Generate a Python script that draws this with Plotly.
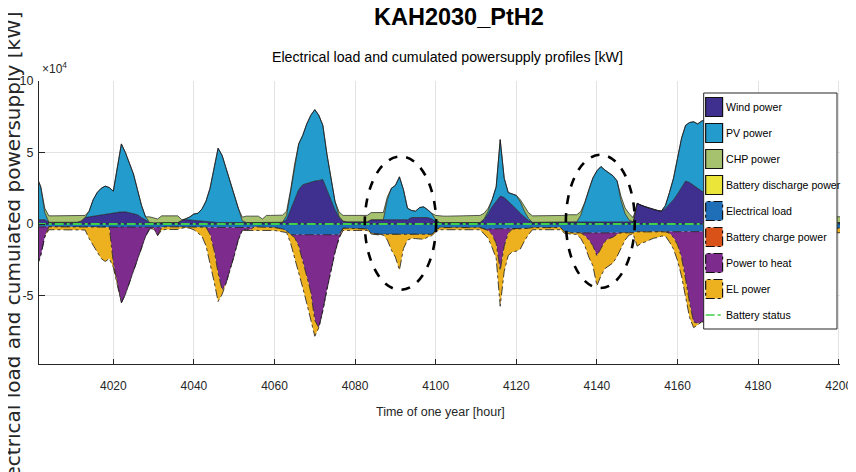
import plotly.graph_objects as go

# ---------------- data (values in units of 10^4 kW) ----------------
hours = list(range(4001, 4202))

wind = [
    0.3, 0.3, 0.3, 0.12, 0.12, 0.12, 0.12, 0.12, 0.12, 0.12,
    0.12, 0.2, 0.45, 0.5, 0.55, 0.6, 0.62, 0.65, 0.7, 0.75,
    0.8, 0.85, 0.85, 0.8, 0.75, 0.65, 0.45, 0.25, 0.1, 0.08,
    0.1, 0.1, 0.1, 0.1, 0.1, 0.1, 0.25, 0.3, 0.28, 0.25,
    0.22, 0.2, 0.18, 0.15, 0.12, 0.1, 0.1, 0.1, 0.1, 0.1,
    0.08, 0.08, 0.1, 0.1, 0.1, 0.1, 0.1, 0.1, 0.1, 0.1,
    0.1, 0.12, 0.3, 1.0, 1.8, 2.4, 2.75, 2.85, 2.9, 3.0,
    3.05, 3.1, 2.4, 1.7, 1.0, 0.45, 0.2, 0.15, 0.15, 0.15,
    0.15, 0.15, 0.15, 0.3, 0.3, 0.3, 0.3, 0.3, 0.3, 0.3,
    0.3, 0.3, 0.3, 0.45, 0.45, 0.45, 0.45, 0.45, 0.35, 0.15,
    0.1, 0.1, 0.1, 0.1, 0.1, 0.1, 0.1, 0.1, 0.1, 0.1,
    0.1, 0.3, 0.7, 1.2, 1.6, 1.95, 1.85, 1.6, 1.3, 1.05,
    0.75, 0.5, 0.25, 0.12, 0.12, 0.12, 0.12, 0.12, 0.12, 0.12,
    0.12, 0.15, 0.15, 0.15, 0.15, 0.12, 0.12, 0.12, 0.12, 0.12,
    0.12, 0.12, 0.12, 0.12, 0.12, 0.12, 0.12, 0.12, 0.15, 1.45,
    1.3, 1.2, 1.1, 1.0, 0.95, 0.9, 1.1, 1.4, 1.7, 2.1,
    2.6, 3.0, 2.9, 2.7, 2.5, 2.3, 2.2, 2.0, 1.8, 1.5,
    1.2, 0.9, 0.6, 0.4, 0.3, 0.2, 0.2, 0.2, 0.2, 0.2,
    0.2, 0.2, 0.2, 0.2, 0.2, 0.15, 0.15, 0.15, 0.15, 0.15,
    0.15, 0.15, 0.15, 0.15, 0.15, 0.12, 0.12, 0.1, 0.1, 0.1,
    0.1,
]

pv = [
    3.0, 2.3, 0.5, 0, 0, 0, 0, 0, 0, 0,
    0, 0, 0, 0.4, 1.15, 1.6, 1.88, 2.0, 1.85, 1.55,
    3.2, 4.75, 4.15, 3.5, 2.75, 1.75, 0.85, 0.25, 0, 0,
    0, 0, 0, 0, 0, 0, 0, 0.05, 0.22, 0.45,
    0.53, 0.85, 1.42, 2.35, 3.78, 5.2, 4.7, 3.8, 2.9, 2.0,
    1.02, 0.15, 0, 0, 0, 0, 0, 0, 0, 0,
    0, 0, 0.3, 1.3, 2.4, 3.2, 3.45, 4.15, 4.7, 5.0,
    4.55, 3.8, 2.5, 1.4, 0.6, 0.1, 0, 0, 0, 0,
    0, 0, 0, 0, 0, 0, 0, 1.4, 2.2, 2.4,
    3.0, 2.1, 0.8, 0.5, 0.45, 0.7, 0.75, 0.55, 0.4, 0.15,
    0, 0, 0, 0, 0, 0, 0, 0, 0, 0,
    0, 0.05, 0.2, 0.5, 1.0, 3.95, 1.35, 0.6, 0.8, 0.95,
    0.8, 0.4, 0.15, 0, 0, 0, 0, 0, 0, 0,
    0, 0, 0, 0, 0, 0.5, 1.4, 2.3, 3.1, 3.6,
    3.9, 3.65, 3.45, 3.25, 2.9, 1.5, 0.6, 0.15, 0, 0,
    0, 0, 0, 0, 0, 0, 0.2, 0.8, 1.5, 2.5,
    3.4, 3.9, 4.2, 4.45, 4.5, 4.9, 5.1, 4.8, 4.0, 3.0,
    2.0, 1.0, 0.3, 0, 0, 0, 0, 0, 0, 0,
    0, 0, 0, 0, 0, 0, 0, 0, 0, 0,
    0, 0, 0, 0, 0, 0, 0, 0, 0, 0,
    0,
]

chp = [
    0, 0, 0.3, 0.45, 0.45, 0.45, 0.45, 0.45, 0.45, 0.45,
    0.45, 0.4, 0.15, 0, 0, 0, 0, 0, 0, 0,
    0, 0, 0, 0, 0, 0, 0, 0, 0.4, 0.35,
    0.25, 0.47, 0.47, 0.47, 0.47, 0.47, 0.05, 0, 0, 0,
    0, 0, 0, 0, 0, 0, 0, 0, 0, 0,
    0, 0.25, 0.45, 0.45, 0.45, 0.45, 0.25, 0.5, 0.5, 0.5,
    0.5, 0.5, 0.3, 0.1, 0, 0, 0, 0, 0, 0,
    0, 0, 0, 0, 0, 0.3, 0.4, 0.45, 0.45, 0.45,
    0.45, 0.45, 0.45, 0.5, 0.5, 0.5, 0.5, 0.2, 0, 0,
    0, 0, 0, 0, 0, 0, 0, 0, 0, 0.3,
    0.45, 0.45, 0.45, 0.45, 0.45, 0.45, 0.45, 0.45, 0.45, 0.45,
    0.5, 0.4, 0.2, 0, 0, 0, 0, 0, 0, 0,
    0.15, 0.3, 0.4, 0.45, 0.45, 0.45, 0.45, 0.45, 0.45, 0.45,
    0.45, 0.45, 0.5, 0.5, 0.5, 0.25, 0, 0, 0, 0,
    0, 0, 0, 0, 0, 0.3, 0.4, 0.45, 0.3, 0,
    0, 0, 0, 0, 0, 0, 0, 0, 0, 0,
    0, 0, 0, 0, 0, 0, 0, 0, 0, 0,
    0, 0, 0.2, 0.4, 0.4, 0.4, 0.4, 0.4, 0.4, 0.4,
    0.4, 0.4, 0.4, 0.4, 0.4, 0.4, 0.4, 0.4, 0.4, 0.4,
    0.4, 0.4, 0.4, 0.4, 0.4, 0.4, 0.4, 0.4, 0.4, 0.4,
    0.4,
]

# demand side (magnitudes, drawn below zero)
load = [
    0.2, 0.2, 0.2, 0.2, 0.2, 0.2, 0.2, 0.2, 0.2, 0.2,
    0.2, 0.2, 0.22, 0.22, 0.22, 0.22, 0.22, 0.22, 0.22, 0.22,
    0.22, 0.22, 0.22, 0.22, 0.22, 0.22, 0.22, 0.22, 0.2, 0.2,
    0.2, 0.2, 0.2, 0.2, 0.2, 0.2, 0.2, 0.2, 0.2, 0.2,
    0.22, 0.22, 0.22, 0.22, 0.22, 0.22, 0.22, 0.22, 0.22, 0.22,
    0.22, 0.2, 0.2, 0.2, 0.2, 0.2, 0.2, 0.2, 0.2, 0.25,
    0.3, 0.35, 0.5, 0.75, 0.75, 0.75, 0.75, 0.75, 0.75, 0.75,
    0.75, 0.75, 0.75, 0.75, 0.75, 0.75, 0.3, 0.3, 0.3, 0.3,
    0.3, 0.3, 0.35, 0.65, 0.7, 0.72, 0.72, 0.72, 0.72, 0.72,
    0.72, 0.72, 0.72, 0.72, 0.72, 0.72, 0.72, 0.72, 0.72, 0.45,
    0.25, 0.25, 0.25, 0.25, 0.25, 0.25, 0.25, 0.25, 0.25, 0.25,
    0.25, 0.35, 0.35, 0.35, 0.35, 0.35, 0.35, 0.35, 0.35, 0.35,
    0.35, 0.35, 0.3, 0.25, 0.25, 0.25, 0.25, 0.25, 0.25, 0.25,
    0.25, 0.55, 0.6, 0.62, 0.62, 0.62, 0.62, 0.62, 0.62, 0.62,
    0.62, 0.62, 0.62, 0.62, 0.62, 0.62, 0.62, 0.62, 0.62, 0.55,
    0.55, 0.55, 0.55, 0.55, 0.55, 0.55, 0.55, 0.55, 0.55, 0.55,
    0.55, 0.55, 0.55, 0.55, 0.55, 0.55, 0.55, 0.55, 0.55, 0.55,
    0.5, 0.5, 0.5, 0.5, 0.5, 0.5, 0.5, 0.5, 0.5, 0.5,
    0.5, 0.5, 0.5, 0.5, 0.5, 0.5, 0.5, 0.5, 0.5, 0.5,
    0.5, 0.5, 0.5, 0.5, 0.45, 0.4, 0.35, 0.3, 0.3, 0.3,
    0.3,
]

power_to_heat = [
    2.8, 2.0, 0.7, 0, 0, 0, 0, 0, 0, 0,
    0, 0, 0, 0, 0, 0, 0, 0, 0, 2.5,
    4.0, 5.3, 4.7, 3.9, 3.0, 2.2, 1.5, 0.65, 0.15, 0.1,
    0.6, 0.05, 0, 0, 0, 0, 0, 0, 0, 0,
    0, 0, 0, 0.5, 1.6, 3.2, 4.4, 3.9, 3.0, 2.0,
    0.9, 0.25, 0.2, 0.2, 0, 0, 0, 0, 0, 0,
    0, 0, 0, 0, 0.2, 0.8, 1.8, 2.9, 4.0, 6.0,
    6.5, 5.3, 3.85, 2.45, 1.25, 0.25, 0, 0, 0, 0,
    0, 0, 0, 0, 0, 0, 0, 0, 0, 0,
    0, 0, 0, 0, 0, 0, 0, 0, 0, 0,
    0, 0, 0, 0, 0, 0, 0, 0, 0, 0,
    0, 0, 0.1, 0.4, 1.0, 2.9, 1.2, 0.3, 0, 0,
    0, 0, 0, 0, 0, 0, 0, 0, 0, 0,
    0, 0, 0, 0, 0, 0, 0.2, 0.5, 0.9, 1.6,
    1.1, 0.6, 0.4, 0.3, 0.1, 0, 0, 0, 0, 0,
    0, 0, 0, 0, 0, 0, 0, 0.1, 0.4, 0.9,
    1.8, 3.3, 5.0, 6.3, 6.4, 6.3, 6.3, 5.8, 5.0, 3.8,
    2.5, 1.3, 0.5, 0, 0, 0, 0, 0, 0, 0,
    0, 0, 0, 0, 0, 0, 0, 0, 0, 0,
    0, 0, 0, 0, 0, 0, 0, 0, 0, 0,
    0,
]

el_power = [
    0, 0, 0, 0.2, 0.2, 0.2, 0.2, 0.2, 0.2, 0.2,
    0.2, 0.2, 0.2, 0.8, 1.3, 1.8, 2.2, 2.4, 2.2, 0.3,
    0, 0, 0, 0, 0, 0, 0, 0, 0, 0.05,
    0, 0.18, 0.18, 0.18, 0.18, 0.18, 0.1, 0.05, 0.1, 0.2,
    0.4, 0.65, 1.3, 2.0, 2.2, 2.0, 0.3, 0, 0, 0,
    0, 0, 0.05, 0.05, 0.2, 0.2, 0.2, 0.2, 0.2, 0.2,
    0.2, 0.2, 0.1, 0.6, 1.4, 1.8, 1.9, 1.9, 1.9, 1.1,
    0, 0, 0, 0, 0, 0, 0.15, 0.15, 0.15, 0.15,
    0.15, 0.15, 0.1, 0.05, 0.05, 0.05, 0.05, 0.4, 1.1, 1.6,
    2.5, 1.0, 0.4, 0.3, 0.3, 0.35, 0.35, 0.2, 0.1, 0.1,
    0.15, 0.15, 0.15, 0.15, 0.15, 0.15, 0.15, 0.15, 0.15, 0.15,
    0.15, 0.35, 0.55, 0.9, 1.05, 2.5, 1.75, 1.55, 1.6, 1.55,
    1.4, 0.85, 0.45, 0.15, 0.15, 0.15, 0.15, 0.15, 0.15, 0.15,
    0.15, 0.1, 0.1, 0.1, 0.1, 0.4, 0.7, 1.2, 1.4, 2.1,
    1.9, 1.9, 1.9, 1.8, 1.55, 1.05, 0.5, 0.15, 0.1, 1.0,
    0.8, 0.7, 0.55, 0.45, 0.4, 0.3, 0.3, 0.6, 0.8, 1.1,
    1.3, 1.3, 1.0, 0.4, 0.1, 0, 0, 0, 0, 0,
    0, 0, 0, 0.25, 0.25, 0.25, 0.25, 0.25, 0.25, 0.25,
    0.25, 0.25, 0.25, 0.25, 0.25, 0.25, 0.25, 0.25, 0.25, 0.25,
    0.25, 0.25, 0.25, 0.25, 0.25, 0.25, 0.3, 0.3, 0.3, 0.3,
    0.3,
]

# battery (no activity in this period)
battery_hours = [4001, 4201]
battery_discharge = [0, 0]
battery_charge = [0, 0]
battery_status = [0, 0]

x_ticks = [4020, 4040, 4060, 4080, 4100, 4120, 4140, 4160, 4180, 4200]
y_ticks = [-5, 0, 5, 10]
y_tick_labels = ["-5", "0", "5", "10"]

# highlighted periods (dashed ellipses): hour range, value range
highlights = [
    (4082.4, 4100.1, -4.6, 4.72),
    (4132.3, 4149.4, -4.48, 4.84),
]

# ---------------- styling ----------------
C_WIND = "#3f2f8f"
C_PV = "#249bcd"
C_CHP = "#a6c26f"
C_DIS = "#ebe53a"
C_LOAD = "#1f6fb8"
C_CHG = "#d95319"
C_PTH = "#7e2b8e"
C_EL = "#edb120"
C_BAT = "#3fcf4a"

SANS = "Liberation Sans, Arial, sans-serif"
EDGE = "#1a1a1a"
TXT = "#262626"

fig = go.Figure()

pos_series = [("Wind power", wind, C_WIND), ("PV power", pv, C_PV), ("CHP power", chp, C_CHP)]
for name, vals, col in pos_series:
    fig.add_trace(go.Scatter(
        x=hours, y=vals, name=name, mode="lines", stackgroup="pos",
        line=dict(color=EDGE, width=0.7), fillcolor=col, showlegend=False,
    ))

neg_series = [("Electrical load", load, C_LOAD), ("Power to heat", power_to_heat, C_PTH),
              ("EL power", el_power, C_EL)]
for name, vals, col in neg_series:
    fig.add_trace(go.Scatter(
        x=hours, y=[-v for v in vals], name=name, mode="lines", stackgroup="neg",
        line=dict(color=EDGE, width=0.8, dash="dashdot"), fillcolor=col, showlegend=False,
    ))

fig.add_trace(go.Scatter(x=battery_hours, y=battery_discharge, mode="lines",
                         name="Battery discharge power", fill="tozeroy", fillcolor=C_DIS,
                         line=dict(color=EDGE, width=0.8), showlegend=False))
fig.add_trace(go.Scatter(x=battery_hours, y=[-v for v in battery_charge], mode="lines",
                         name="Battery charge power", fill="tozeroy", fillcolor=C_CHG,
                         line=dict(color=EDGE, width=1.0, dash="dashdot"), showlegend=False))
fig.add_trace(go.Scatter(x=battery_hours, y=battery_status, mode="lines", name="Battery status",
                         line=dict(color=C_BAT, width=1.8, dash="dashdot"), showlegend=False))

# ---------------- geometry ----------------
# The page body adds an 8 px offset, so the figure is laid out 8 px up/left
OFF = 8
W, H = 856, 472
L, R, T, B = 36 - OFF, 841 - OFF, 81 - OFF, 364 - OFF
PW, PH = R - L, B - T


def px(xs):
    """screen x pixel -> paper coordinate"""
    return (xs - OFF - L) / PW


def py(ys):
    """screen y pixel -> paper coordinate"""
    return (B - (ys - OFF)) / PH


shapes = []
for x0, x1, y0, y1 in highlights:
    shapes.append(dict(type="circle", xref="x", yref="y", x0=x0, x1=x1, y0=y0, y1=y1,
                       line=dict(color="black", width=2.6, dash="dash"), layer="above"))

# custom legend (MATLAB-style square patches)
legend_items = [
    ("Wind power", C_WIND, "solid"), ("PV power", C_PV, "solid"),
    ("CHP power", C_CHP, "solid"), ("Battery discharge power", C_DIS, "solid"),
    ("Electrical load", C_LOAD, "dashdot"), ("Battery charge power", C_CHG, "dashdot"),
    ("Power to heat", C_PTH, "dashdot"), ("EL power", C_EL, "dashdot"),
]
LX0, LX1, LY0, LY1 = 704, 838, 93, 329
shapes.append(dict(type="rect", xref="paper", yref="paper", x0=px(LX0), x1=px(LX1),
                   y0=py(LY1), y1=py(LY0), fillcolor="white",
                   line=dict(color=TXT, width=1), layer="above"))
annotations = []
LEG_FONT = dict(family=SANS, size=10.6, color="black")
for i, (name, col, dash) in enumerate(legend_items):
    cy = 107 + 26 * i
    shapes.append(dict(type="rect", xref="paper", yref="paper", x0=px(706), x1=px(723),
                       y0=py(cy + 9.5), y1=py(cy - 9.5), fillcolor=col,
                       line=dict(color="#111111", width=1.2, dash=dash), layer="above"))
    annotations.append(dict(text=name, xref="paper", yref="paper", x=px(724), y=py(cy),
                            xanchor="left", yanchor="middle", showarrow=False, font=LEG_FONT))
cy = 107 + 26 * 8
shapes.append(dict(type="line", xref="paper", yref="paper", x0=px(706), x1=px(723),
                   y0=py(cy), y1=py(cy), line=dict(color=C_BAT, width=1.5, dash="dashdot"),
                   layer="above"))
annotations.append(dict(text="Battery status", xref="paper", yref="paper", x=px(724), y=py(cy),
                        xanchor="left", yanchor="middle", showarrow=False, font=LEG_FONT))

# titles
annotations += [
    dict(text="<b>KAH2030_PtH2</b>", xref="paper", yref="paper", x=px(458), y=py(17.5),
         xanchor="center", yanchor="middle", showarrow=False,
         font=dict(family=SANS, size=23.5, color="black")),
    dict(text="Electrical load and cumulated powersupply profiles [kW]", xref="paper",
         yref="paper", x=px(447), y=py(57), xanchor="center", yanchor="middle",
         showarrow=False, font=dict(family=SANS, size=14.2, color="black")),
    dict(text="Electrical load and cumulated powersupply [kW]", xref="paper", yref="paper",
         x=px(9.5), y=py(254), xanchor="center", yanchor="middle", textangle=-90,
         showarrow=False, font=dict(family="DejaVu Sans, sans-serif", size=20, color=TXT)),
    dict(text="×10<sup>4</sup>", xref="paper", yref="paper", x=px(37), y=py(68.5),
         xanchor="left", yanchor="middle", showarrow=False,
         font=dict(family=SANS, size=12, color=TXT)),
    dict(text="Time of one year [hour]", xref="paper", yref="paper", x=px(440), y=py(412),
         xanchor="center", yanchor="middle", showarrow=False,
         font=dict(family=SANS, size=12.5, color=TXT)),
]

fig.update_layout(
    width=W, height=H,
    margin=dict(l=L, r=W - R, t=T, b=H - B, pad=0),
    paper_bgcolor="white", plot_bgcolor="white",
    showlegend=False,
    shapes=shapes, annotations=annotations,
    xaxis=dict(range=[4001.56, 4200.32], tickvals=x_ticks, ticks="inside", ticklen=5,
               tickcolor=TXT, showline=True, linecolor=TXT, linewidth=1,
               showgrid=True, gridcolor="#e3e3e3", gridwidth=1, zeroline=False,
               tickfont=dict(family=SANS, size=12, color=TXT), ticklabelstandoff=11),
    yaxis=dict(range=[-9.79, 10.0], tickvals=y_ticks, ticktext=y_tick_labels, ticks="inside",
               ticklen=6, tickcolor=TXT, showline=True, linecolor=TXT, linewidth=1,
               showgrid=True, gridcolor="#e3e3e3", gridwidth=1, zeroline=False,
               tickfont=dict(family=SANS, size=12.5, color=TXT), ticklabelstandoff=2),
)

fig.write_html("out.html")
